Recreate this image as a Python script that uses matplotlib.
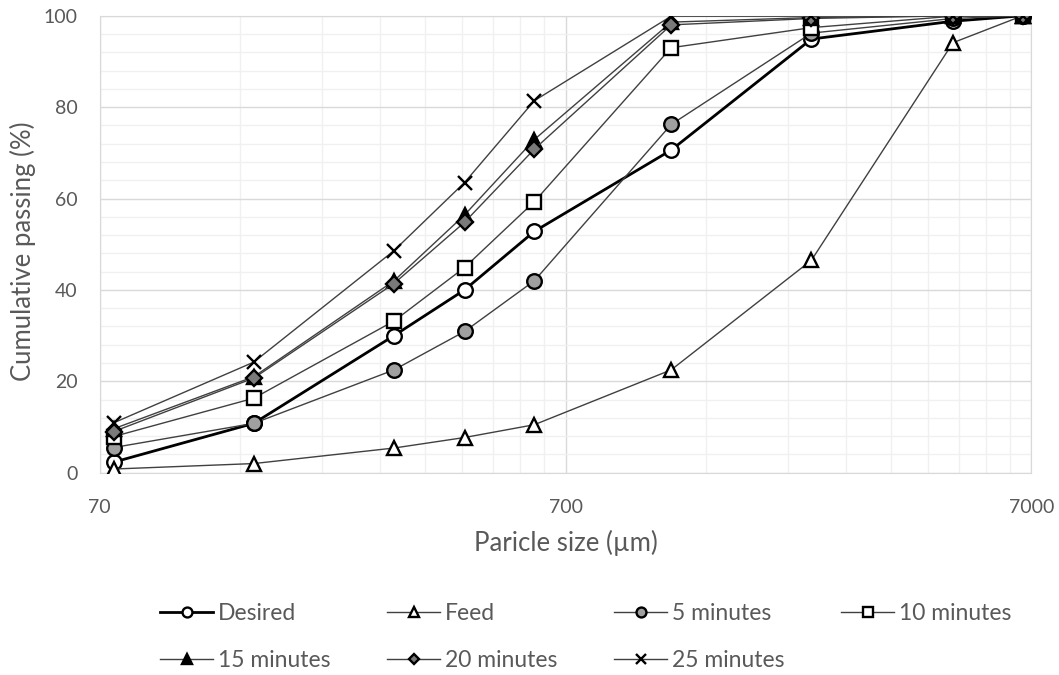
import numpy as np
import matplotlib.pyplot as plt
from matplotlib.ticker import FixedLocator, NullFormatter

plt.rcParams['font.family'] = ['Lato', 'DejaVu Sans']

# sieve sizes (um)
sizes = [75, 150, 300, 425, 600, 1180, 2360, 4750, 6700]

desired = [2.3, 10.8, 30.0, 40.0, 52.8, 70.6, 94.9, 98.8, 100]
feed = [0.8, 2.0, 5.4, 7.7, 10.5, 22.5, 46.5, 94.1, 100]
min5 = [5.5, 10.8, 22.5, 30.9, 42.0, 76.2, 96.2, 99.4, 100]
min10 = [7.9, 16.3, 33.2, 44.9, 59.3, 93.0, 97.4, 99.9, 100]
min15 = [9.6, 21.0, 42.0, 56.4, 72.9, 98.6, 99.6, 100, 100]
min20 = [9.0, 20.7, 41.4, 54.8, 70.8, 98.0, 99.4, 100, 100]
min25 = [10.9, 24.2, 48.6, 63.5, 81.4, 99.9, 99.9, 100, 100]

x_ticks = [70, 700, 7000]
y_ticks = [0, 20, 40, 60, 80, 100]

txt = '#595959'
fig = plt.figure(figsize=(10.59, 6.75), dpi=100)
ax = fig.add_axes([0.094, 0.2997, 0.880, 0.677])

thin = '#404040'
series = [
    ('Desired', desired, dict(marker='o', mfc='white', ms=10.5, color='black', lw=2.0)),
    ('Feed', feed, dict(marker='^', mfc='white', ms=10.5, color=thin, lw=1.0)),
    ('5 minutes', min5, dict(marker='o', mfc='#a0a0a0', ms=10.5, color=thin, lw=1.0)),
    ('10 minutes', min10, dict(marker='s', mfc='white', ms=10, color=thin, lw=1.0)),
    ('15 minutes', min15, dict(marker='^', mfc='black', ms=10.5, color=thin, lw=1.0)),
    ('20 minutes', min20, dict(marker='D', mfc='#7a7a7a', ms=8, color=thin, lw=1.0)),
    ('25 minutes', min25, dict(marker='x', ms=10.5, color=thin, lw=1.0)),
]

handles = {}
for i, (name, vals, kw) in enumerate(series):
    ln, = ax.plot(sizes, vals, mec='black', mew=1.7, label=name, zorder=3 + i, **kw)
    handles[name] = ln

ax.set_xscale('log')
ax.set_xlim(70, 7000)
ax.set_ylim(0, 100)
ax.xaxis.set_major_locator(FixedLocator(x_ticks))
ax.xaxis.set_minor_locator(FixedLocator([70 * k for k in range(2, 10)] + [700 * k for k in range(2, 10)]))
ax.xaxis.set_minor_formatter(NullFormatter())
ax.set_xticklabels([str(v) for v in x_ticks])
ax.yaxis.set_major_locator(FixedLocator(y_ticks))
ax.yaxis.set_minor_locator(FixedLocator(np.arange(0, 101, 4)))

ax.grid(which='major', color='#d9d9d9', lw=1.0)
ax.grid(which='minor', color='#f0f0f0', lw=1.0)
ax.set_axisbelow(True)
for s in ax.spines.values():
    s.set_color('#d9d9d9')
ax.tick_params(which='both', length=0, colors=txt, labelsize=14)
ax.tick_params(axis='x', pad=19)
ax.tick_params(axis='y', pad=16)

ax.set_xlabel('Paricle size (µm)', fontsize=18.5, color=txt)
ax.xaxis.set_label_coords(0.5, -0.125)
ax.set_ylabel('Cumulative passing (%)', fontsize=18.5, color=txt)
ax.yaxis.set_label_coords(-0.068, 0.485)

order = ['Desired', '15 minutes', 'Feed', '20 minutes', '5 minutes', '25 minutes', '10 minutes']
leg = fig.legend([handles[n] for n in order], order, loc='center', bbox_to_anchor=(0.553, 0.0563),
                 ncol=4, frameon=False, fontsize=16.5, markerscale=0.68, handlelength=2.3,
                 handletextpad=0.2, columnspacing=2.5, labelspacing=1.1, labelcolor=txt)

fig.savefig('out.png', dpi=100)
